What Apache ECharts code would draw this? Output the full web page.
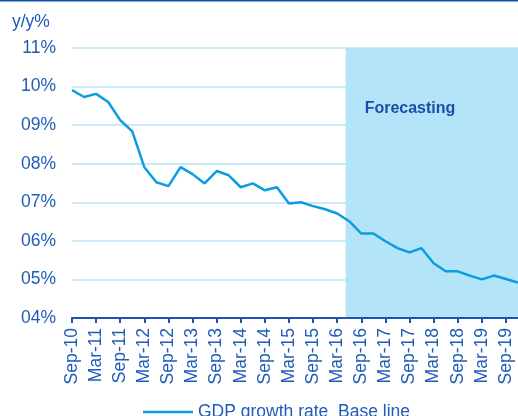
<!DOCTYPE html>
<html>
<head>
<meta charset="utf-8">
<script src="https://cdn.jsdelivr.net/npm/echarts@6/dist/echarts.min.js"></script>
<style>
  html, body { margin: 0; padding: 0; background: #fff; }
  #chart { width: 518px; height: 416px; }
</style>
</head>
<body>
<div id="chart"></div>
<script>
// quarterly labels, Sep-10 .. Dec-19
var quarters = ['Sep-10','Dec-10','Mar-11','Jun-11','Sep-11','Dec-11','Mar-12','Jun-12','Sep-12','Dec-12',
	'Mar-13','Jun-13','Sep-13','Dec-13','Mar-14','Jun-14','Sep-14','Dec-14','Mar-15','Jun-15',
	'Sep-15','Dec-15','Mar-16','Jun-16','Sep-16','Dec-16','Mar-17','Jun-17','Sep-17','Dec-17',
	'Mar-18','Jun-18','Sep-18','Dec-18','Mar-19','Jun-19','Sep-19','Dec-19'];
// GDP growth rate, y/y %
var gdpValues = [9.91,9.73,9.81,9.60,9.13,8.84,7.91,7.52,7.42,7.91,
	7.73,7.49,7.81,7.70,7.39,7.49,7.31,7.39,6.97,7.00,
	6.90,6.82,6.71,6.51,6.19,6.19,5.99,5.81,5.70,5.81,
	5.42,5.21,5.21,5.10,5.00,5.10,5.01,4.92];
var yTicks = [4,5,6,7,8,9,10,11];
var forecastStart = 22.7; // quarter index where forecast shading begins
var seriesName = 'GDP growth rate_Base line';

var chartsDom = document.getElementById('chart');
var myCharts = echarts.init(chartsDom);

var lineData = [];
for (var i = 0; i < gdpValues.length; i++) {
	lineData.push([i, gdpValues[i]]);
}

var labelColor = '#1f5cb8';
var font = 'Liberation Sans, Arial, sans-serif';

var option = {
	animation: false,
	backgroundColor: '#fff',
	grid: { left: 72, right: -1, top: 48, bottom: 98 },
	legend: {
		data: [seriesName],
		left: 138,
		top: 398,
		itemWidth: 50,
		itemHeight: 14,
		itemGap: 6,
		icon: 'path://M0,6 L50,6 L50,8.5 L0,8.5 Z',
		textStyle: { color: labelColor, fontSize: 17.5, fontFamily: font }
	},
	graphic: [
		{ type: 'rect', shape: { x: 0, y: 0, width: 518, height: 1.5 }, style: { fill: '#0b4ea2' } },
		{ type: 'text', left: 12, top: 13, style: { text: 'y/y%', fill: labelColor, fontSize: 17.5, fontFamily: font } }
	],
	xAxis: {
		type: 'value',
		min: 0,
		max: quarters.length - 1,
		interval: 2,
		z: 10,
		splitLine: { show: false },
		axisLine: { show: true, lineStyle: { color: '#1a55b0', width: 2 } },
		axisTick: { show: true, length: 5, lineStyle: { color: '#1a55b0', width: 2 } },
		axisLabel: {
			rotate: 90,
			margin: 10,
			color: labelColor,
			fontSize: 17.5,
			fontFamily: font,
			showMaxLabel: false,
			formatter: function (v) {
				return v % 2 === 0 ? quarters[v] : '';
			}
		}
	},
	yAxis: {
		type: 'value',
		min: yTicks[0],
		max: yTicks[yTicks.length - 1],
		interval: 1,
		axisLine: { show: false },
		axisTick: { show: false },
		splitLine: { lineStyle: { color: '#c9eaf8', width: 2 } },
		axisLabel: {
			margin: 16,
			color: labelColor,
			fontSize: 17.5,
			fontFamily: font,
			formatter: function (v) {
				return (v < 10 ? '0' : '') + v + '%';
			}
		}
	},
	series: [{
		name: seriesName,
		type: 'line',
		data: lineData,
		showSymbol: false,
		symbol: 'none',
		lineStyle: { color: '#0a9de0', width: 2.5 },
		itemStyle: { color: '#0a9de0' },
		markArea: {
			silent: true,
			itemStyle: { color: '#b3e4f7' },
			label: {
				show: true,
				position: [19, 53],
				color: '#1a4fa8',
				fontWeight: 'bold',
				fontSize: 16,
				fontFamily: font
			},
			data: [[
				{ name: 'Forecasting', xAxis: forecastStart },
				{ xAxis: quarters.length - 1 }
			]]
		},
		z: 3
	}]
};
myCharts.setOption(option);
</script>
</body>
</html>
